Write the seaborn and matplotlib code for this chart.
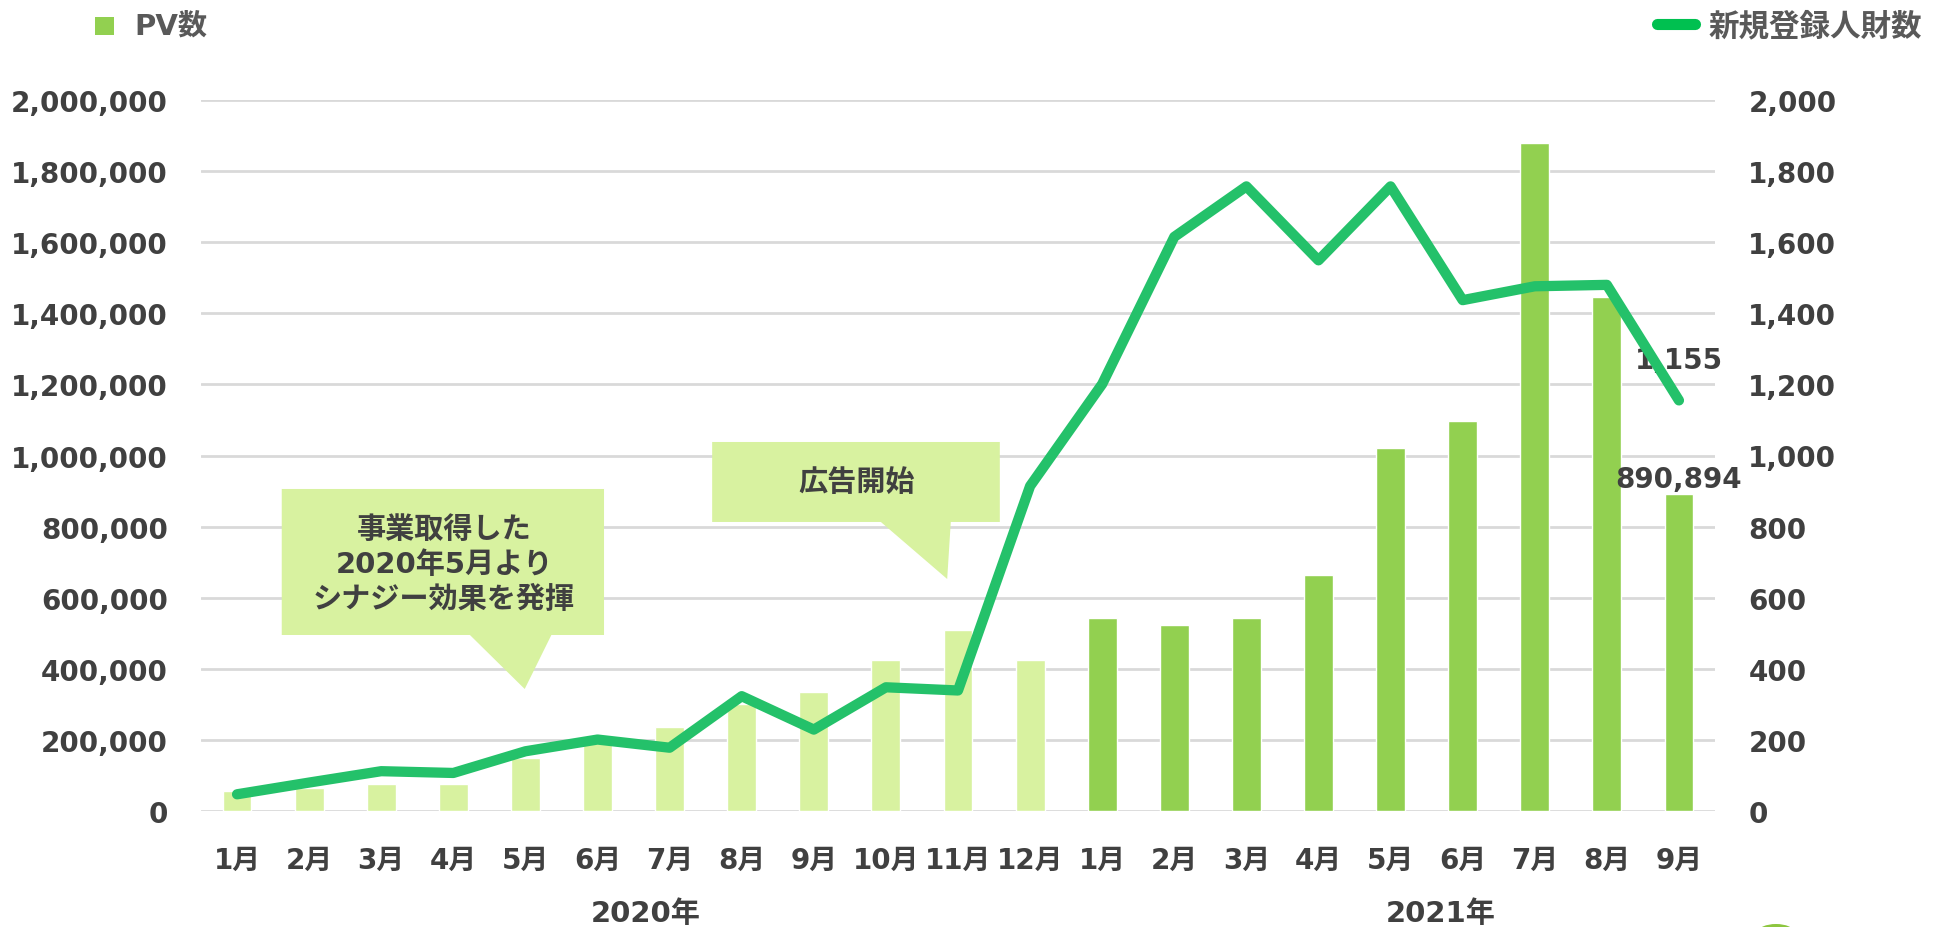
import matplotlib
matplotlib.use("Agg")
import matplotlib.pyplot as plt
import matplotlib.transforms as mtransforms
from matplotlib.patches import Polygon, Rectangle, Ellipse
from matplotlib.lines import Line2D
from matplotlib.ticker import FuncFormatter
import seaborn as sns
import pandas as pd

# data
months = ["1月", "2月", "3月", "4月", "5月", "6月", "7月", "8月", "9月", "10月", "11月", "12月",
          "1月", "2月", "3月", "4月", "5月", "6月", "7月", "8月", "9月"]
years = ["2020"] * 12 + ["2021"] * 9
pv_counts = [56000, 66000, 76000, 76000, 150000, 190000, 235000, 300000, 335000, 425000, 510000, 425000,
             544000, 524000, 544000, 665000, 1022000, 1098000, 1878000, 1445000, 890894]
new_registrations = [47, 80, 112, 107, 168, 201, 178, 323, 229, 348, 339, 914,
                     1201, 1615, 1757, 1549, 1757, 1437, 1476, 1480, 1155]
year_labels = ["2020年", "2021年"]

LIGHT = "#D8F2A0"
DARK = "#92D050"
LINE = "#24C16A"
TEXT = "#404040"
LEGEND_TEXT = "#595959"
GRID = "#D9D9D9"

sns.set_style("white")
plt.rcParams["font.family"] = ["DejaVu Sans", "Noto Sans CJK JP"]
plt.rcParams["font.weight"] = "bold"

df = pd.DataFrame({"pos": range(len(months)), "pv": pv_counts,
                   "reg": new_registrations, "year": years})

W, H = 1937, 928
fig = plt.figure(figsize=(W / 100, H / 100), dpi=100)
ax = fig.add_axes([201 / W, 1 - 812 / H, (1715 - 201) / W, (812 - 101) / H])

sns.barplot(data=df, x="pos", y="pv", hue="year", palette={"2020": LIGHT, "2021": DARK},
            dodge=False, width=0.4, saturation=1, legend=False, ax=ax)

ax2 = ax.twinx()
sns.lineplot(data=df, x="pos", y="reg", ax=ax2, color=LINE, linewidth=7.4,
             solid_capstyle="round", solid_joinstyle="round")

ax.set_xlim(-0.5, len(months) - 0.5)
ax.set_ylim(0, 2000000)
ax2.set_ylim(0, 2000)
ax.set_yticks(range(0, 2000001, 200000))
ax2.set_yticks(range(0, 2001, 200))
ax.yaxis.set_major_formatter(FuncFormatter(lambda v, p: f"{int(v):,}"))
ax2.yaxis.set_major_formatter(FuncFormatter(lambda v, p: f"{int(v):,}"))
ax.set_xticks(range(len(months)))
ax.set_xticklabels(months)
for a in (ax, ax2):
    a.set_xlabel("")
    a.set_ylabel("")
    for s in a.spines.values():
        s.set_visible(False)
ax.grid(axis="y", color=GRID, linewidth=2)
ax.grid(axis="x", visible=False)
ax2.grid(False)
ax.set_axisbelow(True)
ax.tick_params(axis="y", length=0, pad=24, labelsize=20, labelcolor=TEXT)
ax2.tick_params(axis="y", length=0, pad=24, labelsize=20, labelcolor=TEXT)
ax.tick_params(axis="x", length=0, pad=25, labelsize=20, labelcolor=TEXT)

# callouts
call1 = [(0.62, 905800), (5.09, 905800), (5.09, 495100), (4.36, 495100), (3.99, 343200),
         (3.23, 495100), (0.62, 495100)]
call2 = [(6.59, 1038000), (10.58, 1038000), (10.58, 813000), (9.90, 813000), (9.85, 652600),
         (8.93, 813000), (6.59, 813000)]
for pts in (call1, call2):
    ax.add_patch(Polygon(pts, closed=True, facecolor=LIGHT, edgecolor="none", zorder=3))
ax.text(2.87, 694800, "事業取得した\n2020年5月より\nシナジー効果を発揮", ha="center", va="center",
        fontsize=21, color=TEXT, linespacing=1.3, zorder=4)
ax.text(8.59, 925500, "広告開始", ha="center", va="center", fontsize=21, color=TEXT, zorder=4)

# data labels on the last month
last = len(months) - 1
ax.annotate(f"{pv_counts[last]:,}", (last, pv_counts[last]), xytext=(0, 15),
            textcoords="offset pixels", ha="center", va="center", fontsize=20, color=TEXT, zorder=5)
ax.annotate(f"{new_registrations[last]:,}", (last, new_registrations[last]), xycoords=ax2.transData,
            xytext=(0, 40), textcoords="offset pixels", ha="center", va="center",
            fontsize=20, color=TEXT, zorder=5)

# year labels under the months
trans = mtransforms.blended_transform_factory(ax.transData, fig.transFigure)
for x, lab in zip([5.67, 16.7], year_labels):
    ax.text(x, 1 - 900 / H, lab, transform=trans, ha="center", va="top",
            fontsize=21, color=TEXT, clip_on=False)

# legends
fig.patches.append(Rectangle((95 / W, 1 - 36 / H), 19 / W, 18 / H, transform=fig.transFigure,
                             facecolor=DARK, edgecolor="none"))
fig.text(134 / W, 1 - 27 / H, "PV数", ha="left", va="center", fontsize=21, color=LEGEND_TEXT)
fig.lines.append(Line2D([1657 / W, 1695 / W], [1 - 25 / H, 1 - 25 / H], transform=fig.transFigure,
                        color="#00C050", linewidth=8))
fig.text(1709 / W, 1 - 27 / H, "新規登録人財数", ha="left", va="center", fontsize=22,
         color=LEGEND_TEXT)

# edge of a logo peeking in at the bottom right
fig.patches.append(Ellipse((1776 / W, -5 / H), 36 / W, 16 / H, transform=fig.transFigure,
                           facecolor="#8DC63F", edgecolor="none"))

fig.savefig("out.png", dpi=100)
